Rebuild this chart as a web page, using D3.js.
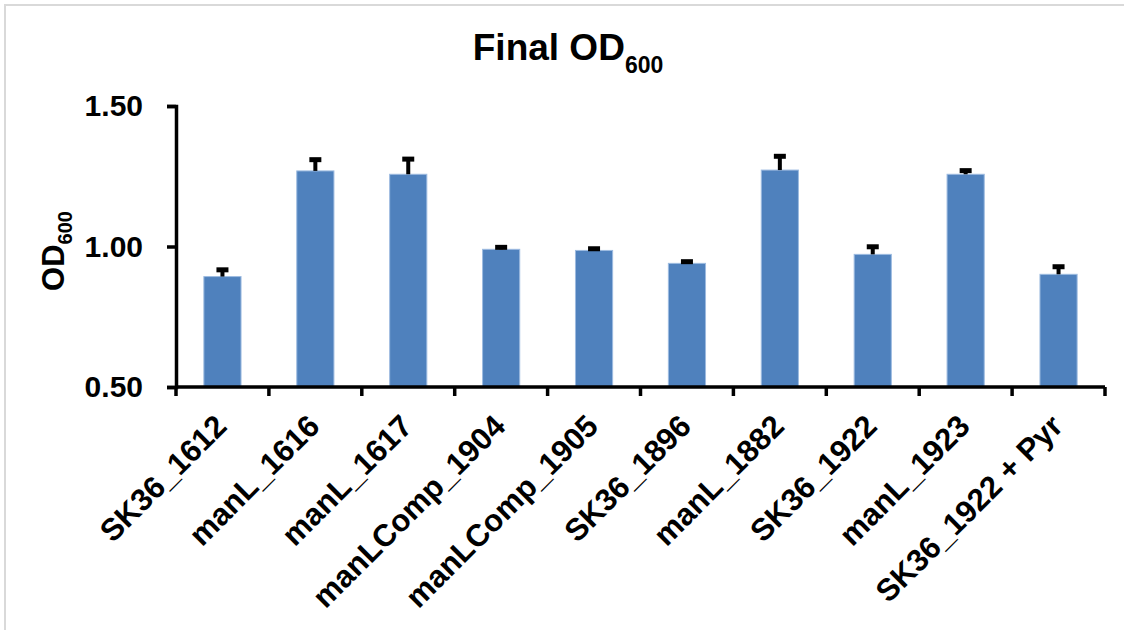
<!DOCTYPE html>
<html>
<head>
<meta charset="utf-8">
<script src="https://cdn.jsdelivr.net/npm/d3@7/dist/d3.min.js"></script>
<style>
  html, body { margin: 0; padding: 0; background: #ffffff; }
  svg { display: block; font-family: "Liberation Sans", Arial, sans-serif; }
</style>
</head>
<body>
<svg id="chart" width="1124" height="630"></svg>
<script>
// Strains / conditions on the x axis
const strains = [
  "SK36_1612", "manL_1616", "manL_1617", "manLComp_1904", "manLComp_1905",
  "SK36_1896", "manL_1882", "SK36_1922", "manL_1923", "SK36_1922 + Pyr"
];
// Mean final OD600 per strain
const odMean = [0.893, 1.269, 1.257, 0.990, 0.986, 0.940, 1.272, 0.972, 1.257, 0.901];
// Upper error (standard deviation)
const odErr = [0.024, 0.040, 0.054, 0.007, 0.006, 0.006, 0.049, 0.027, 0.013, 0.027];
// Y axis ticks
const yTicks = [0.5, 1.0, 1.5];

const svg = d3.select("#chart");

// Outer chart frame
svg.append("rect")
  .attr("x", 5).attr("y", 5)
  .attr("width", 1140).attr("height", 640)
  .attr("fill", "none")
  .attr("stroke", "#d9d9d9")
  .attr("stroke-width", 2);

const x = d3.scaleBand()
  .domain(strains)
  .range([176, 1105])
  .paddingInner(0.6)
  .paddingOuter(0.3);

const y = d3.scaleLinear()
  .domain([0.5, 1.5])
  .range([387, 106]);

// Bars
svg.append("g")
  .selectAll("rect")
  .data(strains)
  .join("rect")
  .attr("x", d => x(d))
  .attr("y", (d, i) => y(odMean[i]))
  .attr("width", x.bandwidth())
  .attr("height", (d, i) => y(0.5) - y(odMean[i]))
  .attr("fill", "#4f81bd")
  .attr("stroke", "#9dbbe0")
  .attr("stroke-width", 1);

// Error bars (upper only)
const err = svg.append("g");
strains.forEach((s, i) => {
  const cx = x(s) + x.bandwidth() / 2;
  const top = y(odMean[i] + odErr[i]);
  err.append("line")
    .attr("x1", cx).attr("x2", cx)
    .attr("y1", y(odMean[i])).attr("y2", top)
    .attr("stroke", "#000").attr("stroke-width", 4);
  err.append("line")
    .attr("x1", cx - 6).attr("x2", cx + 6)
    .attr("y1", top).attr("y2", top)
    .attr("stroke", "#000").attr("stroke-width", 5);
});

// Y axis
const yAxis = svg.append("g")
  .attr("transform", "translate(176,0)")
  .call(d3.axisLeft(y).tickValues(yTicks).tickFormat(d3.format(".2f")).tickSize(9).tickPadding(24));
yAxis.select(".domain").attr("stroke", "#000").attr("stroke-width", 3.5);
yAxis.selectAll(".tick line").attr("stroke", "#000").attr("stroke-width", 3.5);
yAxis.selectAll(".tick text")
  .attr("fill", "#000")
  .style("font-size", "30px")
  .style("font-weight", "bold")
  .style("font-family", "'Liberation Sans', Arial, sans-serif");

// X axis with ticks on category boundaries
const xAxisG = svg.append("g").attr("transform", "translate(0,387)");
xAxisG.append("line")
  .attr("x1", 176).attr("x2", 1105)
  .attr("y1", 0).attr("y2", 0)
  .attr("stroke", "#000").attr("stroke-width", 3.5);
const bounds = [176].concat(strains.map(s => x(s) + x.bandwidth() + x.step() * x.paddingInner() / 2));
xAxisG.selectAll("line.tick")
  .data(bounds)
  .join("line")
  .attr("class", "tick")
  .attr("x1", d => d).attr("x2", d => d)
  .attr("y1", 0).attr("y2", 9)
  .attr("stroke", "#000").attr("stroke-width", 3.5);

// Rotated category labels
svg.append("g")
  .selectAll("text")
  .data(strains)
  .join("text")
  .attr("transform", d => `translate(${x(d) + x.bandwidth() / 2 + 6},428) rotate(-45)`)
  .attr("text-anchor", "end")
  .style("font-size", "31px")
  .style("font-weight", "bold")
  .attr("fill", "#000")
  .text(d => d);

// Title
const title = svg.append("text")
  .attr("x", 568).attr("y", 60)
  .attr("text-anchor", "middle")
  .style("font-size", "37px")
  .style("font-weight", "bold")
  .attr("fill", "#000");
title.append("tspan").text("Final OD");
title.append("tspan").attr("dy", 13).style("font-size", "23px").text("600");

// Y axis title
const yTitle = svg.append("text")
  .attr("transform", "translate(64,251) rotate(-90)")
  .attr("text-anchor", "middle")
  .style("font-size", "31px")
  .style("font-weight", "bold")
  .attr("fill", "#000");
yTitle.append("tspan").text("OD");
yTitle.append("tspan").attr("dy", 8).style("font-size", "20px").text("600");
</script>
</body>
</html>
